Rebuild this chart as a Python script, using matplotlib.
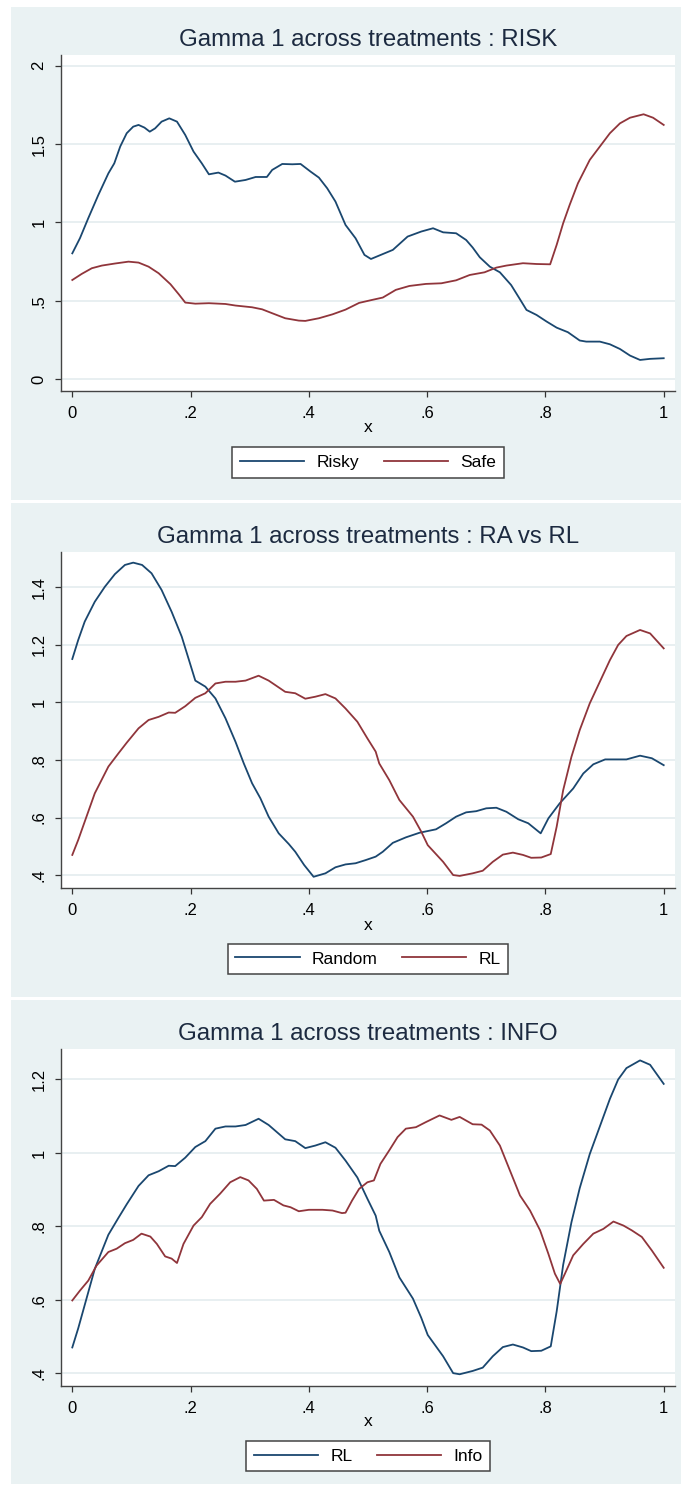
"""
Gamma 1 across treatments - three stacked kernel density panels (Stata look)
"""

import matplotlib
matplotlib.use("Agg")
import matplotlib.pyplot as plt
from matplotlib.patches import Rectangle

plt.rcParams['font.family'] = ['Liberation Sans', 'DejaVu Sans']

#### DATA
risky_x = [0, .013, .027, .044, .061, .071, .081, .092, .103, .112, .122, .131, .140, .151,
           .164, .177, .191, .205, .219, .231, .247, .259, .275, .293, .310, .329, .338, .355,
           .372, .386, .403, .417, .431, .445, .462, .479, .494, .505, .519, .542, .567, .590,
           .610, .627, .649, .666, .677, .689, .706, .723, .742, .756, .768, .785, .802, .819,
           .838, .858, .869, .892, .909, .926, .943, .960, .977, 1.0]
risky_y = [.803, .90, 1.027, 1.175, 1.313, 1.377, 1.484, 1.569, 1.611, 1.622, 1.605, 1.579,
           1.600, 1.643, 1.664, 1.643, 1.558, 1.452, 1.377, 1.307, 1.318, 1.299, 1.260, 1.271,
           1.290, 1.290, 1.335, 1.373, 1.371, 1.373, 1.324, 1.286, 1.218, 1.133, .984, .899,
           .793, .767, .789, .825, .910, .942, .963, .937, .931, .888, .840, .778, .718, .682,
           .601, .516, .442, .410, .368, .329, .300, .247, .240, .240, .223, .193, .151, .123,
           .130, .134]

safe_x = [0, .016, .033, .050, .072, .095, .112, .129, .146, .166, .180, .191, .208, .231,
          .259, .276, .304, .321, .338, .360, .383, .394, .417, .440, .462, .485, .507, .525,
          .547, .570, .598, .624, .649, .672, .697, .717, .734, .762, .785, .808, .819, .830,
          .841, .855, .875, .892, .909, .926, .943, .966, .982, 1.0]
safe_y = [.633, .672, .708, .725, .738, .750, .744, .718, .676, .606, .542, .489, .482, .485,
          .480, .470, .459, .446, .421, .389, .374, .372, .389, .414, .444, .487, .506, .521,
          .570, .595, .608, .612, .631, .665, .682, .712, .725, .740, .735, .733, .857, .995,
          1.112, 1.250, 1.399, 1.484, 1.569, 1.632, 1.668, 1.690, 1.668, 1.622]

random_x = [0, .010, .021, .038, .055, .072, .089, .103, .118, .134, .151, .168, .185, .199,
            .208, .225, .242, .259, .276, .290, .304, .318, .332, .349, .366, .377, .392, .408,
            .428, .445, .462, .479, .496, .513, .525, .542, .564, .587, .615, .632, .649, .666,
            .683, .700, .717, .734, .754, .771, .792, .805, .824, .847, .864, .881, .901, .920,
            .937, .960, .980, 1.0]
random_y = [1.151, 1.217, 1.281, 1.350, 1.402, 1.446, 1.478, 1.486, 1.478, 1.449, 1.391,
            1.315, 1.229, 1.136, 1.076, 1.055, 1.014, .945, .863, .788, .719, .667, .603, .545,
            .508, .481, .435, .394, .406, .427, .437, .441, .452, .464, .481, .512, .531, .547,
            .559, .580, .603, .618, .622, .632, .634, .620, .594, .580, .545, .597, .649, .701,
            .753, .785, .802, .802, .802, .815, .806, .782]

rl_x = [0, .010, .024, .038, .061, .078, .092, .112, .129, .146, .163, .174, .191, .208, .225,
        .242, .259, .276, .293, .315, .332, .360, .377, .394, .411, .428, .445, .462, .482,
        .499, .513, .519, .536, .553, .576, .590, .601, .627, .644, .655, .677, .694, .711,
        .728, .745, .762, .776, .793, .809, .819, .830, .844, .858, .875, .892, .909, .923,
        .937, .960, .977, 1.0]
rl_y = [.470, .522, .603, .684, .777, .823, .860, .910, .939, .950, .965, .964, .987, 1.016,
        1.032, 1.066, 1.072, 1.072, 1.076, 1.093, 1.076, 1.037, 1.032, 1.013, 1.020, 1.029,
        1.014, .979, .933, .875, .829, .788, .730, .661, .603, .551, .504, .446, .400, .397,
        .406, .415, .446, .471, .478, .470, .460, .461, .473, .568, .695, .811, .904, .997,
        1.072, 1.147, 1.200, 1.231, 1.252, 1.240, 1.188]

info_x = [0, .013, .027, .041, .061, .075, .089, .103, .117, .132, .143, .157, .168, .177,
          .188, .205, .219, .233, .250, .267, .284, .298, .312, .324, .341, .357, .369, .383,
          .400, .423, .440, .456, .462, .473, .485, .499, .510, .521, .536, .550, .564, .581,
          .598, .621, .641, .655, .677, .692, .706, .723, .740, .757, .774, .791, .805, .816,
          .825, .833, .847, .864, .881, .898, .915, .932, .946, .963, .980, 1.0]
info_y = [.598, .625, .652, .693, .730, .739, .754, .763, .780, .772, .752, .718, .712, .700,
          .752, .802, .825, .861, .889, .920, .934, .925, .902, .870, .872, .857, .852, .841,
          .845, .845, .843, .836, .837, .870, .902, .920, .925, .970, 1.007, 1.043, 1.066,
          1.070, 1.084, 1.102, 1.090, 1.098, 1.078, 1.077, 1.061, 1.020, .952, .884, .843,
          .789, .725, .671, .643, .671, .721, .752, .780, .793, .813, .802, .789, .771, .734,
          .687]

titles = ["Gamma 1 across treatments : RISK",
          "Gamma 1 across treatments : RA vs RL",
          "Gamma 1 across treatments : INFO"]
panel_series = [[(risky_x, risky_y, "Risky"), (safe_x, safe_y, "Safe")],
                [(random_x, random_y, "Random"), (rl_x, rl_y, "RL")],
                [(rl_x, rl_y, "RL"), (info_x, info_y, "Info")]]
yticks = [[0, .5, 1, 1.5, 2],
          [.4, .6, .8, 1, 1.2, 1.4],
          [.4, .6, .8, 1, 1.2]]
ytick_labels = [['0', '.5', '1', '1.5', '2'],
                ['.4', '.6', '.8', '1', '1.2', '1.4'],
                ['.4', '.6', '.8', '1', '1.2']]
ylims = [(-0.075, 2.068), (0.355, 1.523), (0.365, 1.283)]
xticks = [0, .2, .4, .6, .8, 1]
xtick_labels = ['0', '.2', '.4', '.6', '.8', '1']

#### LAYOUT (pixels in a 681 x 1491 picture)
W, H = 681, 1491
bg_col = '#eaf2f3'
navy = '#1a476f'
maroon = '#90353b'

panel_bg = [(7, 500), (503, 997), (1000, 1484)]
ax_box = [(55, 391), (552, 888), (1049, 1386)]
title_base = [45.7, 543.3, 1040]
xlab_y = [428, 925, 1422]
leg_y = [462.5, 959, 1456]
ax_left, ax_right = 61, 675


def fy(py):
    return 1 - py / H


fig = plt.figure(figsize=(W / 100, H / 100), dpi=100)
fig.patch.set_facecolor('white')

for i in range(3):
    top, bot = panel_bg[i]
    fig.patches.append(Rectangle((11 / W, fy(bot)), 1 - 11 / W, (bot - top) / H,
                                 transform=fig.transFigure, facecolor=bg_col,
                                 edgecolor='none', zorder=-5))

    atop, abot = ax_box[i]
    ax = fig.add_axes([ax_left / W, fy(abot), (ax_right - ax_left) / W, (abot - atop) / H])
    ax.set_zorder(1)
    ax.set_facecolor('white')

    for (xs, ys, lab), col in zip(panel_series[i], [navy, maroon]):
        ax.plot(xs, ys, color=col, lw=1.3, label=lab)

    ax.set_xlim(-0.0191, 1.0191)
    ax.set_ylim(*ylims[i])
    ax.set_xticks(xticks)
    ax.set_xticklabels(xtick_labels)
    ax.set_yticks(yticks[i])
    ax.set_yticklabels(ytick_labels[i], rotation=90, va='center')
    ax.tick_params(labelsize=12, length=4.5, width=0.9, color='#333333', pad=6)
    ax.grid(axis='y', color='#e4ecef', lw=1.2)
    ax.set_axisbelow(True)
    for s in ['top', 'right']:
        ax.spines[s].set_visible(False)
    for s in ['left', 'bottom']:
        ax.spines[s].set_color('#444444')
        ax.spines[s].set_linewidth(1)

    fig.text(368 / W, fy(title_base[i]), titles[i], ha='center', va='baseline',
             fontsize=17.3, color='#1c2a40')
    fig.text(368 / W, fy(xlab_y[i]), 'x', ha='center', va='center', fontsize=12.5)

    leg = ax.legend(loc='center', bbox_to_anchor=(368 / W, fy(leg_y[i])),
                    bbox_transform=fig.transFigure, ncol=2, fontsize=12.5,
                    handlelength=3.7, handletextpad=0.7, columnspacing=1.4,
                    borderpad=0.45, fancybox=False, framealpha=1)
    leg.get_frame().set_edgecolor('#444444')
    leg.get_frame().set_linewidth(1.1)

plt.savefig('out.png', dpi=100, facecolor=fig.get_facecolor())
